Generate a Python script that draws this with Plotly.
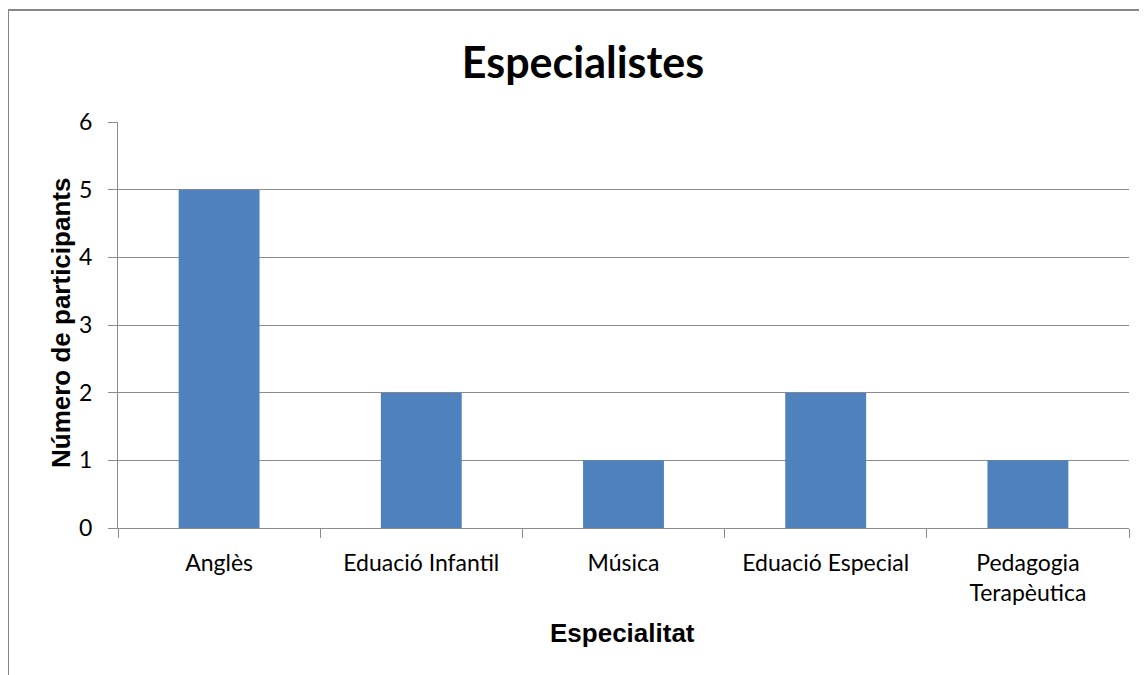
import plotly.graph_objects as go

# data
especialitats = ['Anglès', 'Eduació Infantil', 'Música', 'Eduació Especial', 'Pedagogia<br>Terapèutica']
participants = [5, 2, 1, 2, 1]
y_ticks = [0, 1, 2, 3, 4, 5, 6]

bar_color = '#4F81BD'
grid_color = '#8C8C8C'
body_font = 'Lato, "Open Sans", sans-serif'
bold_font = '"Liberation Sans", Arial, sans-serif'

# the page body has an 8px margin, so the figure is sized to fit the window
W, H = 1139, 667
L, T, PW, PH = 110, 114, 1011, 406

fig = go.Figure()

fig.add_trace(
    go.Bar(
        x=especialitats,
        y=participants,
        marker=dict(color=bar_color, line=dict(width=0)),
        showlegend=False,
    )
)

fig.update_layout(
    width=W,
    height=H,
    margin=dict(l=L, r=W - L - PW, t=T, b=H - T - PH),
    paper_bgcolor='white',
    plot_bgcolor='white',
    bargap=0.6,
    title=dict(
        text='<b>Especialistes</b>',
        x=575 / W,
        xref='container',
        xanchor='center',
        y=1 - 55 / H,
        yref='container',
        yanchor='middle',
        font=dict(family=body_font, size=43, color='black'),
    ),
    # outer chart border, runs off the right and bottom edge like the source
    shapes=[
        dict(
            type='rect', xref='paper', yref='paper',
            x0=(0 - L) / PW, x1=(W + 10 - L) / PW,
            y0=(T + PH - H - 10) / PH, y1=1 + (T - 2) / PH,
            line=dict(color='#868686', width=2),
            fillcolor='rgba(0,0,0,0)', layer='below',
        )
    ],
    annotations=[
        dict(
            text='<b>Número de participants</b>',
            xref='paper', yref='paper',
            x=(53 - L) / PW, y=0.5 + 2 / PH,
            xanchor='center', yanchor='middle',
            textangle=-90, showarrow=False,
            font=dict(family=bold_font, size=26, color='black'),
        ),
        dict(
            text='<b>Especialitat</b>',
            xref='paper', yref='paper',
            x=(614 - L) / PW, y=(T + PH - 625) / PH,
            xanchor='center', yanchor='middle',
            showarrow=False,
            font=dict(family=bold_font, size=26, color='black'),
        ),
    ],
)

fig.update_xaxes(
    type='category',
    showline=True,
    linecolor=grid_color,
    linewidth=1,
    ticks='outside',
    tickson='boundaries',
    ticklen=9,
    tickcolor=grid_color,
    ticklabelstandoff=14,
    tickfont=dict(family=body_font, size=23, color='black'),
    showgrid=False,
)

fig.update_yaxes(
    range=[0, 6],
    tickvals=y_ticks,
    showline=True,
    linecolor=grid_color,
    linewidth=1,
    showgrid=True,
    gridcolor=grid_color,
    gridwidth=1,
    zeroline=False,
    ticks='outside',
    ticklen=9,
    tickcolor=grid_color,
    ticklabelstandoff=11,
    tickfont=dict(family=body_font, size=23, color='black'),
)

fig.write_html("out.html")
